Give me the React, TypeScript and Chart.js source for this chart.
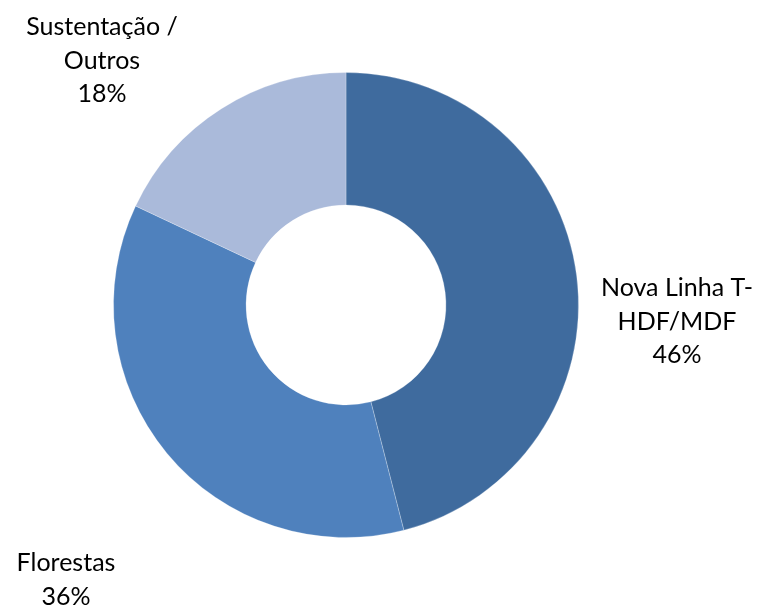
import React, { useEffect, useRef } from "react";
import { Chart, registerables } from "chart.js";

Chart.register(...registerables);

const categories = ["Nova Linha T-HDF/MDF", "Florestas", "Sustentação / Outros"];
const labelLines = [
  ["Nova Linha T-", "HDF/MDF", "46%"],
  ["Florestas", "36%"],
  ["Sustentação /", "Outros", "18%"],
];
const values = [46, 36, 18];
const colors = ["#3F6B9E", "#4F81BD", "#AABADA"];

// label anchor (center of first line) in pixels, layout only
const labelAnchors = [
  { x: 677, y: 288 },
  { x: 66, y: 563 },
  { x: 102, y: 27 },
];

const labelPlugin = {
  id: "outerLabels",
  afterDraw(chart: any) {
    const ctx = chart.ctx;
    ctx.save();
    ctx.font = "25px Lato, 'Open Sans', sans-serif";
    ctx.fillStyle = "#000000";
    ctx.textAlign = "center";
    ctx.textBaseline = "middle";
    labelLines.forEach((lines, i) => {
      const a = labelAnchors[i];
      lines.forEach((t, j) => ctx.fillText(t, a.x, a.y + j * 33.5));
    });
    ctx.restore();
  },
};

export default function App() {
  const ref = useRef<HTMLCanvasElement>(null);
  useEffect(() => {
    document.body.style.margin = "0";
    const chart = new Chart(ref.current!, {
      type: "doughnut",
      data: {
        labels: categories,
        datasets: [
          {
            data: values,
            backgroundColor: colors,
            borderWidth: 1,
            borderColor: "rgba(255,255,255,0.25)",
          },
        ],
      },
      options: {
        animation: false,
        responsive: false,
        cutout: "43%",
        layout: { padding: { left: 113, right: 179, top: 72, bottom: 69 } },
        plugins: { legend: { display: false }, tooltip: { enabled: false } },
      },
      plugins: [labelPlugin],
    });
    return () => chart.destroy();
  }, []);
  return (
    <div style={{ width: 758, height: 607, background: "#fff" }}>
      <canvas ref={ref} width={758} height={607} style={{ display: "block" }} />
    </div>
  );
}
